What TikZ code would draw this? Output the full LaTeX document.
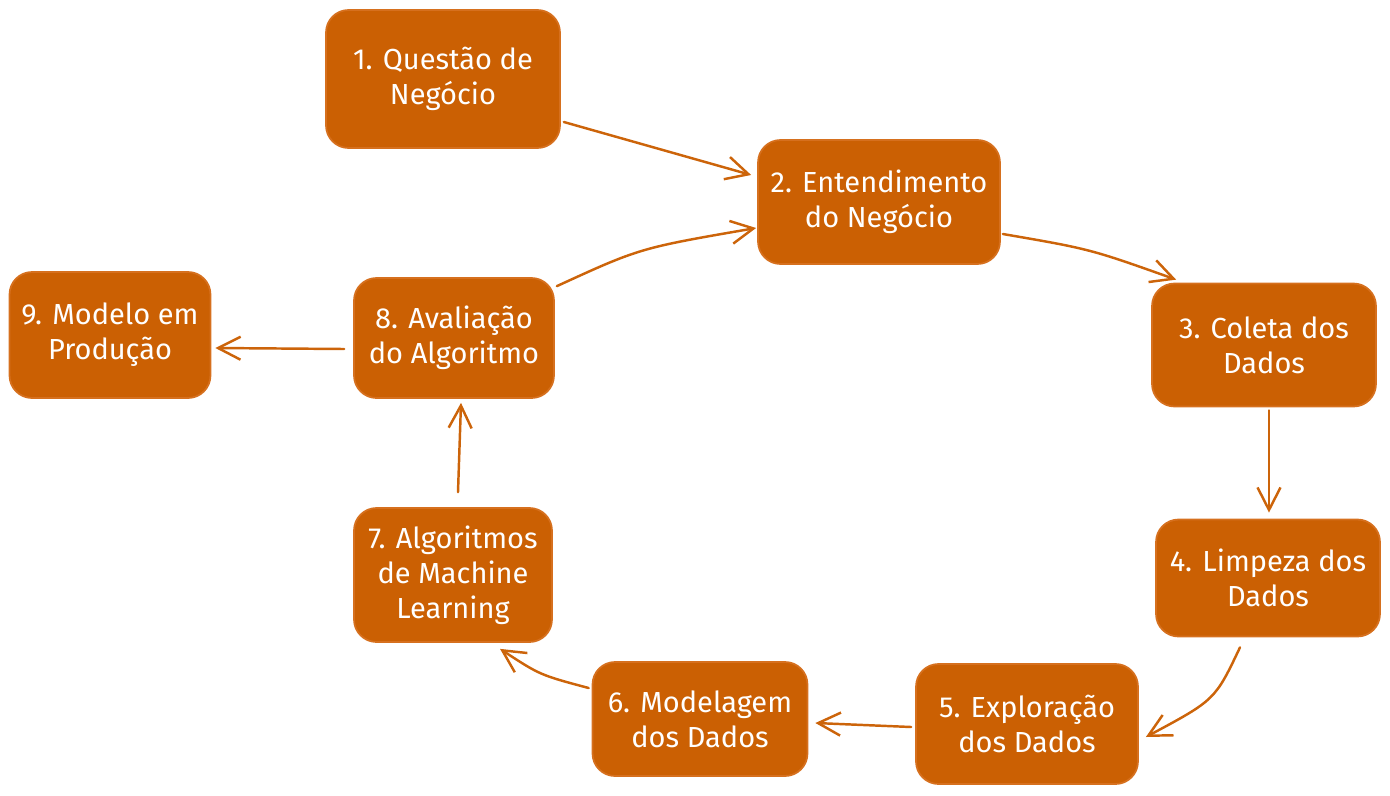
\documentclass[tikz,border=0pt]{standalone}
\usepackage{fontspec}
\setmainfont{Fira Sans}
\usetikzlibrary{arrows.meta,calc}
\definecolor{boxfill}{RGB}{203,96,3}
\definecolor{boxline}{RGB}{214,112,30}
\definecolor{arrowc}{RGB}{204,100,10}
\tikzset{
  stepbox/.style={draw=boxline, fill=boxfill, line width=1pt, rounded corners=0.45cm,
    text=white, align=center, font=\fontsize{16.5}{20}\selectfont, inner sep=0pt},
  flow/.style={draw=arrowc, line width=1.4pt, line cap=round,
    -{Straight Barb[length=4.5mm,width=4.6mm,line width=1.4pt]}}
}
\begin{document}
\begin{tikzpicture}[x=0.02cm,y=-0.02cm]
\useasboundingbox (0,0) rectangle (1390,795);
\node[stepbox, minimum width=4.68cm, minimum height=2.76cm] (b1) at (443,79) {1. Questão de\\Negócio};
\node[stepbox, minimum width=4.84cm, minimum height=2.48cm] (b2) at (879,202) {2. Entendimento\\do Negócio};
\node[stepbox, minimum width=4.48cm, minimum height=2.46cm] (b3) at (1264,345) {3. Coleta dos\\Dados};
\node[stepbox, minimum width=4.48cm, minimum height=2.34cm] (b4) at (1268,578) {4. Limpeza dos\\Dados};
\node[stepbox, minimum width=4.44cm, minimum height=2.40cm] (b5) at (1027,724) {5. Exploração\\dos Dados};
\node[stepbox, minimum width=4.30cm, minimum height=2.28cm] (b6) at (700,719) {6. Modelagem\\dos Dados};
\node[stepbox, minimum width=3.96cm, minimum height=2.68cm] (b7) at (453,575) {7. Algoritmos\\de Machine\\Learning};
\node[stepbox, minimum width=4.00cm, minimum height=2.40cm] (b8) at (454,338) {8. Avaliação\\do Algoritmo};
\node[stepbox, minimum width=4.02cm, minimum height=2.52cm] (b9) at (110,335) {9. Modelo em\\Produção};

% 1 -> 2
\draw[flow] ($(b1.east)+(3,43)$) -- ($(b2.west)+(-6,-27)$);
% 2 -> 3
\draw[flow] ($(b2.east)+(2,32)$) .. controls (1090,249) .. ($(b3.north west)+(25,-3)$);
% 3 -> 4
\draw[flow] ($(b3.south)+(5,3)$) -- ($(b4.north)+(1,-6)$);
% 4 -> 5
\draw[flow] ($(b4.south)+(-28,10)$) .. controls (1215,700) .. ($(b5.east)+(7,13)$);
% 5 -> 6
\draw[flow] ($(b5.west)+(-4,3)$) -- ($(b6.east)+(7,4)$);
% 6 -> 7
\draw[flow] ($(b6.west)+(-3,-31)$) .. controls (540,675) .. ($(b7.south)+(47,6)$);
% 7 -> 8
\draw[flow] ($(b7.north)+(5,-15)$) -- ($(b8.south)+(7,4)$);
% 8 -> 9
\draw[flow] ($(b8.west)+(-9,11)$) -- ($(b9.east)+(4,13)$);
% 8 -> 2
\draw[flow] ($(b8.north east)+(2,9)$) .. controls (640,248) .. ($(b2.west)+(-1,26)$);
\end{tikzpicture}
\end{document}
